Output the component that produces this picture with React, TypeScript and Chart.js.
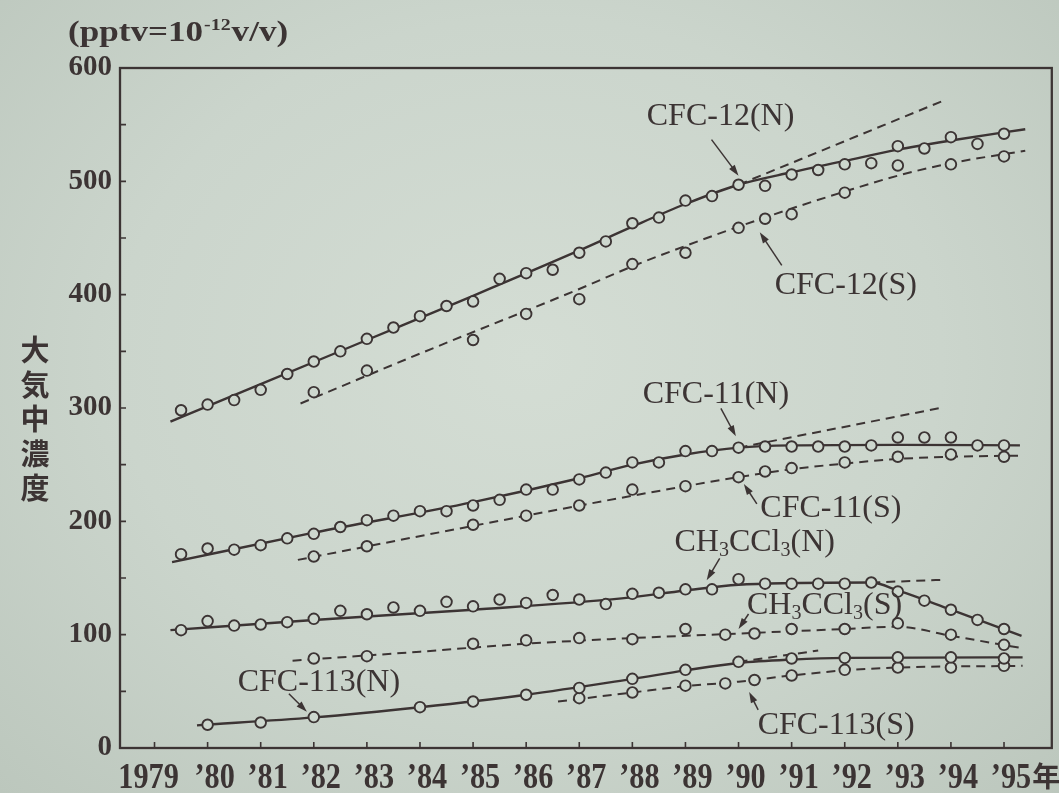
import React, { useEffect, useRef } from 'react';
import { Chart, registerables } from 'chart.js';

Chart.register(...registerables);

const INK = '#3c3434';
const PAPER = '#cdd7ce';
const SERIF = '"Liberation Serif", "Times New Roman", serif';
const GOTHIC = '"Noto Sans CJK JP", "Noto Sans CJK SC", sans-serif';

// ---- axes ----
const yearTicks = [1979, 1980, 1981, 1982, 1983, 1984, 1985, 1986, 1987, 1988, 1989, 1990, 1991, 1992, 1993, 1994, 1995];
const yearLabels = ['1979', '’80', '’81', '’82', '’83', '’84', '’85', '’86', '’87', '’88', '’89', '’90', '’91', '’92', '’93', '’94', '’95'];
const concTicks = [0, 50, 100, 150, 200, 250, 300, 350, 400, 450, 500, 550, 600];

// ---- northern hemisphere, half-yearly observations ----
const halfYears = [1979.5, 1980, 1980.5, 1981, 1981.5, 1982, 1982.5, 1983, 1983.5, 1984, 1984.5, 1985, 1985.5, 1986, 1986.5, 1987, 1987.5, 1988, 1988.5, 1989, 1989.5, 1990, 1990.5, 1991, 1991.5, 1992, 1992.5, 1993, 1993.5, 1994, 1994.5, 1995];
const cfc12N = [298, 303, 307, 316, 330, 341, 350, 361, 371, 381, 390, 394, 414, 419, 422, 437, 447, 463, 468, 483, 487, 497, 496, 506, 510, 515, 516, 531, 529, 539, 533, 542];
const cfc11N = [171, 176, 175, 179, 185, 189, 195, 201, 205, 209, 209, 214, 219, 228, 228, 237, 243, 252, 252, 262, 262, 265, 266, 266, 266, 266, 267, 274, 274, 274, 267, 267];
const ch3ccl3N = [104, 112, 108, 109, 111, 114, 121, 118, 124, 121, 129, 125, 131, 128, 135, 131, 127, 136, 137, 140, 140, 149, 145, 145, 145, 145, 146, 138, 130, 122, 113, 105];

// ---- southern hemisphere and CFC-113 observations ----
const sYears = [1982, 1983, 1985, 1986, 1987, 1988, 1989, 1990, 1990.5, 1991, 1992, 1993, 1994, 1995];
const cfc12S = [314, 333, 360, 383, 396, 427, 437, 459, 467, 471, 490, 514, 515, 522];
const cfc11S = [169, 178, 197, 205, 214, 228, 231, 239, 244, 247, 252, 257, 259, 257];
const ch3Years = [1982, 1983, 1985, 1986, 1987, 1988, 1989, 1989.75, 1990.3, 1991, 1992, 1993, 1994, 1995];
const ch3ccl3S = [79, 81, 92, 95, 97, 96, 105, 100, 101, 105, 105, 110, 100, 91];
const cfc113NYears = [1980, 1981, 1982, 1984, 1985, 1986, 1987, 1988, 1989, 1990, 1991, 1992, 1993, 1994, 1995];
const cfc113N = [20.5, 22.5, 27.3, 36, 41, 47, 53, 61, 69, 76, 79, 79.5, 80, 80, 79];
const cfc113SYears = [1987, 1988, 1989, 1989.75, 1990.3, 1991, 1992, 1993, 1994, 1995];
const cfc113S = [44, 49, 55, 57, 60, 64, 69, 71, 71, 72.5];

// ---- smoothed trend curves ----
const cfc12NFitX = [1979.3, 1981, 1983, 1985, 1987, 1988, 1989, 1990, 1991, 1992, 1993, 1994, 1995.4];
const cfc12NFitY = [288, 321, 360, 399, 439, 460, 480, 497, 508, 518, 528, 536, 546];
const cfc12NExtX = [1990, 1993.85];
const cfc12NExtY = [497, 571];
const cfc12SFitX = [1981.75, 1984, 1987, 1988, 1989, 1990, 1991, 1992, 1993, 1994, 1995.4];
const cfc12SFitY = [304, 348, 405, 425, 443, 460, 476, 491, 505, 516, 527];
const cfc11NFitX = [1979.33, 1982, 1985, 1987, 1988, 1989, 1990, 1991, 1993, 1995.3];
const cfc11NFitY = [164, 190, 217, 238, 250, 259, 265, 267, 267.5, 267];
const cfc11NExtX = [1990, 1993.8];
const cfc11NExtY = [265, 300];
const cfc11SFitX = [1981.7, 1985, 1987.7, 1989, 1990, 1991, 1992, 1993, 1994, 1995.3];
const cfc11SFitY = [166, 196, 220, 231, 239, 246, 251, 255, 257, 258];
const ch3NFitX = [1979.3, 1982, 1985, 1987.8, 1989, 1990, 1991, 1992.5, 1993, 1994, 1995.33];
const ch3NFitY = [104, 113, 122, 132, 139, 144, 145.5, 146, 139, 122, 99];
const ch3NExtX = [1992.5, 1993.9];
const ch3NExtY = [146, 148.5];
const ch3SFitX = [1981.6, 1984, 1986, 1988, 1990, 1992, 1993, 1994, 1995.35];
const ch3SFitY = [77, 85, 92, 97, 101, 105, 107, 99, 88];
const cfc113NFitX = [1979.8, 1982, 1984, 1986, 1988, 1989, 1990, 1991, 1992, 1995.35];
const cfc113NFitY = [20, 27, 36, 47, 61, 68.5, 75, 78, 79.5, 80];
const cfc113NExtX = [1990, 1991.5];
const cfc113NExtY = [76, 86];
const cfc113SFitX = [1986.6, 1988, 1989, 1990, 1991, 1992, 1993, 1995.35];
const cfc113SFitY = [41, 49, 54.5, 58.5, 64, 68.5, 71, 72.5];

// ---- callouts: arrow tip in data units, tail / text centre as pixel offsets ----
type Part = [string, boolean];
const callouts: { parts: Part[]; at: [number, number]; tail: [number, number]; text: [number, number] }[] = [
  { parts: [['CFC-12(N)', false]], at: [1990, 505], tail: [-27, -36], text: [-18, -59] },
  { parts: [['CFC-12(S)', false]], at: [1990.4, 455], tail: [22, 33], text: [86, 53] },
  { parts: [['CFC-11(N)', false]], at: [1989.95, 275], tail: [-15, -28], text: [-20, -42] },
  { parts: [['CFC-11(S)', false]], at: [1990.1, 233], tail: [13, 20], text: [87, 25] },
  { parts: [['CH', false], ['3', true], ['CCl', false], ['3', true], ['(N)', false]], at: [1989.4, 148], tail: [13, -22], text: [48, -38] },
  { parts: [['CH', false], ['3', true], ['CCl', false], ['3', true], ['(S)', false]], at: [1990, 105], tail: [10, -15], text: [86, -23] },
  { parts: [['CFC-113(N)', false]], at: [1981.87, 32], tail: [-18, -18], text: [12, -29] },
  { parts: [['CFC-113(S)', false]], at: [1990.2, 49.5], tail: [9, 18], text: [87, 34] },
];

const yTitle = ['大', '気', '中', '濃', '度'];

function pts(xs: number[], ys: number[]) {
  return xs.map((x, i) => ({ x, y: ys[i] }));
}

function markers(label: string, xs: number[], ys: number[]) {
  return {
    label,
    data: pts(xs, ys),
    showLine: false,
    pointRadius: 5.3,
    pointHoverRadius: 5.3,
    pointBorderWidth: 1.9,
    pointBorderColor: INK,
    pointBackgroundColor: PAPER,
    order: 0,
  };
}

function curve(label: string, xs: number[], ys: number[], dashed: boolean) {
  return {
    label,
    data: pts(xs, ys),
    showLine: true,
    pointRadius: 0,
    pointHoverRadius: 0,
    borderColor: INK,
    borderWidth: dashed ? 2 : 2.4,
    borderDash: dashed ? [9, 6] : [],
    cubicInterpolationMode: 'monotone',
    fill: false,
    order: 1,
  };
}

function drawParts(ctx: CanvasRenderingContext2D, parts: Part[], cx: number, cy: number) {
  const big = `normal 32px ${SERIF}`;
  const small = `normal 20px ${SERIF}`;
  let total = 0;
  const widths = parts.map(([t, sub]) => {
    ctx.font = sub ? small : big;
    const w = ctx.measureText(t).width;
    total += w;
    return w;
  });
  let x = cx - total / 2;
  ctx.textAlign = 'left';
  ctx.textBaseline = 'middle';
  parts.forEach(([t, sub], i) => {
    ctx.font = sub ? small : big;
    ctx.fillText(t, x, sub ? cy + 8 : cy);
    x += widths[i];
  });
}

function arrow(ctx: CanvasRenderingContext2D, x1: number, y1: number, x2: number, y2: number) {
  const a = Math.atan2(y2 - y1, x2 - x1);
  const L = 11;
  const W = 3.5;
  ctx.beginPath();
  ctx.moveTo(x1, y1);
  ctx.lineTo(x2 - L * 0.6 * Math.cos(a), y2 - L * 0.6 * Math.sin(a));
  ctx.stroke();
  ctx.beginPath();
  ctx.moveTo(x2, y2);
  ctx.lineTo(x2 - L * Math.cos(a) + W * Math.sin(a), y2 - L * Math.sin(a) - W * Math.cos(a));
  ctx.lineTo(x2 - L * Math.cos(a) - W * Math.sin(a), y2 - L * Math.sin(a) + W * Math.cos(a));
  ctx.closePath();
  ctx.fill();
}

// text squeezed or widened horizontally around its own centre / left edge
function stretchedText(ctx: CanvasRenderingContext2D, text: string, x: number, y: number, sx: number) {
  ctx.save();
  ctx.translate(x, y);
  ctx.scale(sx, 1);
  ctx.fillText(text, 0, 0);
  ctx.restore();
}

const decor = {
  id: 'decor',
  afterDraw(chart: any) {
    const { ctx, chartArea: a, scales } = chart;
    const xs = scales.x;
    const ys = scales.y;
    ctx.save();
    ctx.strokeStyle = INK;
    ctx.fillStyle = INK;

    // plot frame
    ctx.lineWidth = 2.3;
    ctx.strokeRect(a.left, a.top, a.right - a.left, a.bottom - a.top);

    // inward tick marks
    ctx.lineWidth = 1.6;
    ctx.beginPath();
    yearTicks.forEach((v) => {
      const px = xs.getPixelForValue(v);
      ctx.moveTo(px, a.bottom);
      ctx.lineTo(px, a.bottom - 6);
    });
    concTicks.forEach((v) => {
      const py = ys.getPixelForValue(v);
      ctx.moveTo(a.left, py);
      ctx.lineTo(a.left + 6, py);
    });
    ctx.stroke();

    // year labels (condensed face)
    const squeeze = 0.84;
    ctx.font = `bold 36px ${SERIF}`;
    ctx.textAlign = 'center';
    ctx.textBaseline = 'alphabetic';
    yearTicks.forEach((v, i) => {
      const cx = xs.getPixelForValue(v) + (i === 0 ? -6 : 7);
      stretchedText(ctx, yearLabels[i], cx, a.bottom + 40, squeeze);
      if (i === yearTicks.length - 1) {
        const w = ctx.measureText(yearLabels[i]).width * squeeze;
        ctx.save();
        ctx.font = `bold 28px ${GOTHIC}`;
        ctx.textAlign = 'left';
        ctx.fillText('年', cx + w / 2 + 1, a.bottom + 39);
        ctx.restore();
      }
    });

    // series callouts
    ctx.lineWidth = 1.5;
    callouts.forEach((c) => {
      const tx = xs.getPixelForValue(c.at[0]);
      const ty = ys.getPixelForValue(c.at[1]);
      arrow(ctx, tx + c.tail[0], ty + c.tail[1], tx, ty);
      drawParts(ctx, c.parts, tx + c.text[0], ty + c.text[1]);
    });

    // unit note (widened face)
    ctx.textAlign = 'left';
    ctx.textBaseline = 'alphabetic';
    const widen = 1.17;
    let ux = 68;
    const uy = 41;
    ctx.font = `bold 30px ${SERIF}`;
    stretchedText(ctx, '(pptv=10', ux, uy, widen);
    ux += ctx.measureText('(pptv=10').width * widen + 1;
    ctx.font = `bold 17px ${SERIF}`;
    stretchedText(ctx, '-12', ux, uy - 11, widen);
    ux += ctx.measureText('-12').width * widen + 1;
    ctx.font = `bold 30px ${SERIF}`;
    stretchedText(ctx, 'v/v)', ux, uy, widen);

    // vertical axis title
    ctx.font = `bold 29px ${GOTHIC}`;
    ctx.textAlign = 'center';
    ctx.textBaseline = 'middle';
    yTitle.forEach((ch, i) => {
      ctx.fillText(ch, 35, 350 + i * 34.5);
    });

    ctx.restore();
  },
};

export default function App() {
  const ref = useRef<HTMLCanvasElement>(null);

  useEffect(() => {
    const canvas = ref.current;
    if (!canvas) return;
    const chart = new Chart(canvas, {
      type: 'scatter',
      data: {
        datasets: [
          curve('CFC-12(N) trend', cfc12NFitX, cfc12NFitY, false),
          curve('CFC-12(N) extrapolation', cfc12NExtX, cfc12NExtY, true),
          curve('CFC-12(S) trend', cfc12SFitX, cfc12SFitY, true),
          curve('CFC-11(N) trend', cfc11NFitX, cfc11NFitY, false),
          curve('CFC-11(N) extrapolation', cfc11NExtX, cfc11NExtY, true),
          curve('CFC-11(S) trend', cfc11SFitX, cfc11SFitY, true),
          curve('CH3CCl3(N) trend', ch3NFitX, ch3NFitY, false),
          curve('CH3CCl3(N) extrapolation', ch3NExtX, ch3NExtY, true),
          curve('CH3CCl3(S) trend', ch3SFitX, ch3SFitY, true),
          curve('CFC-113(N) trend', cfc113NFitX, cfc113NFitY, false),
          curve('CFC-113(N) extrapolation', cfc113NExtX, cfc113NExtY, true),
          curve('CFC-113(S) trend', cfc113SFitX, cfc113SFitY, true),
          markers('CFC-12(N)', halfYears, cfc12N),
          markers('CFC-12(S)', sYears, cfc12S),
          markers('CFC-11(N)', halfYears, cfc11N),
          markers('CFC-11(S)', sYears, cfc11S),
          markers('CH3CCl3(N)', halfYears, ch3ccl3N),
          markers('CH3CCl3(S)', ch3Years, ch3ccl3S),
          markers('CFC-113(N)', cfc113NYears, cfc113N),
          markers('CFC-113(S)', cfc113SYears, cfc113S),
        ] as any,
      },
      options: {
        responsive: false,
        animation: false,
        events: [],
        layout: { padding: { left: 0, top: 68, right: 3, bottom: 0 } },
        plugins: { legend: { display: false }, tooltip: { enabled: false } },
        scales: {
          x: {
            type: 'linear',
            min: 1978.35,
            max: 1995.9,
            grid: { display: false, drawTicks: false },
            border: { display: false },
            ticks: { display: false },
            afterBuildTicks: (scale: any) => {
              scale.ticks = yearTicks.map((value) => ({ value }));
            },
            afterFit: (scale: any) => {
              scale.height = 45;
            },
          },
          y: {
            type: 'linear',
            min: 0,
            max: 600,
            grid: { display: false, drawTicks: false },
            border: { display: false },
            ticks: {
              color: INK,
              padding: 8,
              font: { family: SERIF, size: 29, weight: 'bold' },
              callback: (v: any) => (Number(v) % 100 === 0 ? String(v) : ''),
            },
            afterBuildTicks: (scale: any) => {
              scale.ticks = concTicks.map((value) => ({ value }));
            },
            afterFit: (scale: any) => {
              scale.width = 120;
            },
          },
        },
      } as any,
      plugins: [decor],
    });
    return () => chart.destroy();
  }, []);

  return (
    <div
      style={{
        position: 'fixed',
        left: 0,
        top: 0,
        width: 1059,
        height: 793,
        background: 'radial-gradient(ellipse at 50% 45%, #d4ddd4 0%, #cbd5cc 55%, #bcc7bd 100%)',
      }}
    >
      <canvas ref={ref} width={1059} height={793} style={{ display: 'block', width: 1059, height: 793 }} />
    </div>
  );
}
